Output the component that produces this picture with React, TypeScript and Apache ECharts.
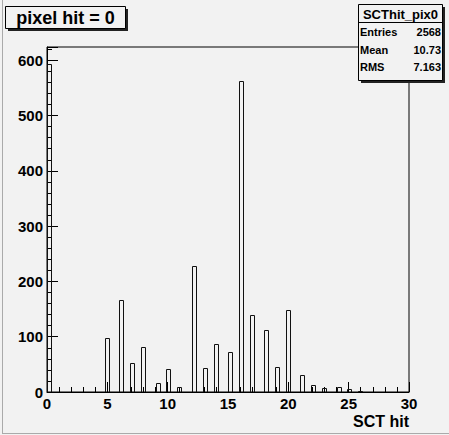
import React, { useEffect, useRef } from "react";
import * as echarts from "echarts";

// histogram: 100 bins of width 0.3 over [0, 30]
const binWidth = 0.3;
const binLow = [0, 4.8, 6.0, 6.9, 7.8, 9.0, 9.9, 10.8, 12.0, 12.9, 13.8, 15.0, 15.9, 16.8, 18.0, 18.9, 19.8, 21.0, 21.9, 22.8, 24.0, 24.9, 25.8];
const counts = [594, 98, 167, 52, 81, 17, 41, 9, 228, 44, 87, 72, 562, 140, 113, 45, 148, 31, 13, 7, 9, 5, 1];

const titleText = "pixel hit = 0";
const statsTitle = "SCThit_pix0";
const statsNames = ["Entries", "Mean", "RMS"];
const statsValues = ["2568", "10.73", "7.163"];
const xName = "SCT hit";

const FONT = "'Liberation Sans', Arial, Helvetica, sans-serif";
const BG = "#f2f2f2";

export default function App() {
  const ref = useRef<HTMLDivElement>(null);
  useEffect(() => {
    if (!ref.current) return;
    const chart = echarts.init(ref.current, undefined, { renderer: "svg" });
    const data = binLow.map((lo, i) => [lo, lo + binWidth, counts[i]]);
    const grid = { left: 47, right: 40, top: 47, bottom: 43, show: true, borderColor: "#000", borderWidth: 1, backgroundColor: "transparent" };
    const statsLeft = 358;
    const statsRight = 442;
    const rowY = [32, 50, 67];
    const graphic: any[] = [
      // canvas edges
      { type: "line", shape: { x1: 2.5, y1: 0, x2: 2.5, y2: 433.5 }, style: { stroke: "#aaaaaa", lineWidth: 1 } },
      { type: "line", shape: { x1: 2, y1: 433.5, x2: 449, y2: 433.5 }, style: { stroke: "#aaaaaa", lineWidth: 1 } },
      // title box
      { type: "rect", shape: { x: 8, y: 9, width: 120, height: 22 }, style: { fill: "#222" } },
      { type: "rect", shape: { x: 5.5, y: 6.5, width: 120, height: 22 }, style: { fill: BG, stroke: "#000", lineWidth: 1 } },
      { type: "text", x: 65.5, y: 18, style: { text: titleText, font: `bold 18px ${FONT}`, fill: "#000", align: "center", verticalAlign: "middle" } },
      // stats box
      { type: "rect", shape: { x: statsLeft + 3, y: 7, width: statsRight - statsLeft, height: 76 }, style: { fill: "#222" } },
      { type: "rect", shape: { x: statsLeft + 0.5, y: 4.5, width: statsRight - statsLeft, height: 76 }, style: { fill: BG, stroke: "#000", lineWidth: 1 } },
      { type: "line", shape: { x1: statsLeft, y1: 22.5, x2: statsRight + 0.5, y2: 22.5 }, style: { stroke: "#000", lineWidth: 1 } },
      { type: "text", x: (statsLeft + statsRight) / 2 + 0.5, y: 14.5, style: { text: statsTitle, font: `bold 13px ${FONT}`, fill: "#000", align: "center", verticalAlign: "middle" } },
    ];
    statsNames.forEach((n, i) => {
      graphic.push({ type: "text", x: statsLeft + 2, y: rowY[i], style: { text: n, font: `bold 11px ${FONT}`, fill: "#000", align: "left", verticalAlign: "middle" } });
      graphic.push({ type: "text", x: statsRight - 1, y: rowY[i], style: { text: statsValues[i], font: `bold 11px ${FONT}`, fill: "#000", align: "right", verticalAlign: "middle" } });
    });

    chart.setOption({
      animation: false,
      backgroundColor: BG,
      grid,
      xAxis: [
        {
          type: "value", min: 0, max: 30, interval: 5, position: "bottom",
          axisLine: { show: true, lineStyle: { color: "#000", width: 1 } },
          axisTick: { show: true, inside: true, length: 10, lineStyle: { color: "#000" } },
          minorTick: { show: true, splitNumber: 5, length: 5, lineStyle: { color: "#000" } },
          splitLine: { show: false },
          axisLabel: { color: "#000", fontFamily: FONT, fontWeight: "bold", fontSize: 15, margin: 4 },
          name: xName, nameLocation: "end", nameGap: 0,
          nameTextStyle: { color: "#000", fontFamily: FONT, fontWeight: "bold", fontSize: 16, align: "right", verticalAlign: "top", padding: [21, 0, 0, 0] },
        },
      ],
      yAxis: [
        {
          type: "value", min: 0, max: 624, interval: 20, position: "left",
          axisLine: { show: true, lineStyle: { color: "#000", width: 1 } },
          axisTick: { show: true, inside: true, length: 5, lineStyle: { color: "#000" } },
          splitLine: { show: false },
          axisLabel: {
            color: "#000", fontFamily: FONT, fontWeight: "bold", fontSize: 15, margin: 4,
            formatter: (v: number) => (Math.abs(v % 100) < 1e-6 ? String(v) : ""),
          },
        },
        {
          type: "value", min: 0, max: 624, interval: 100, position: "left", offset: 0,
          axisLine: { show: false },
          axisTick: { show: true, inside: true, length: 11, lineStyle: { color: "#000" } },
          splitLine: { show: false },
          axisLabel: { show: false },
        },
      ],
      series: [
        {
          type: "custom",
          xAxisIndex: 0,
          yAxisIndex: 0,
          clip: true,
          encode: { x: [0, 1], y: 2 },
          data,
          renderItem: (params: any, api: any) => {
            const p0 = api.coord([api.value(0), api.value(2)]);
            const p1 = api.coord([api.value(1), 0]);
            return {
              type: "rect",
              shape: { x: Math.round(p0[0]) + 0.5, y: Math.round(p0[1]) + 0.5, width: Math.round(p1[0] - p0[0]), height: Math.round(p1[1]) - Math.round(p0[1]) },
              style: { fill: "none", stroke: "#111", lineWidth: 1 },
            };
          },
        },
      ],
      graphic,
    });
    return () => chart.dispose();
  }, []);
  return <div ref={ref} style={{ position: "fixed", left: 0, top: 0, width: 449, height: 435 }} />;
}
